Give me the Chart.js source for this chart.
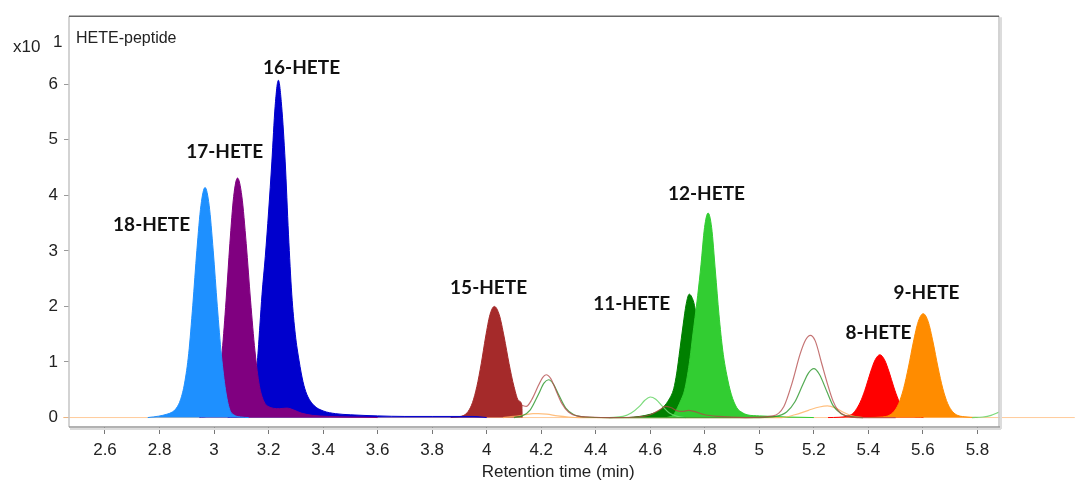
<!DOCTYPE html>
<html>
<head>
<meta charset="utf-8">
<script src="https://cdn.jsdelivr.net/npm/chart.js@4"></script>
<style>
  body { margin: 0; background: #fff; }
  canvas { display: block; }
</style>
</head>
<body>
<canvas id="grafico" width="1075" height="481"></canvas>
<script>
// axis ticks
const xTicks = [2.6, 2.8, 3, 3.2, 3.4, 3.6, 3.8, 4, 4.2, 4.4, 4.6, 4.8, 5, 5.2, 5.4, 5.6, 5.8];
const yTicks = [0, 1, 2, 3, 4, 5, 6];

// filled peaks (time in min, intensity x10^1)
const t18 = [2.757, 2.797, 2.827, 2.847, 2.862, 2.877, 2.892, 2.907, 2.922, 2.937, 2.952, 2.967, 2.982, 2.997, 3.012, 3.027, 3.042, 3.057, 3.072, 3.097, 3.127];
const v18 = [0, 0.025, 0.06, 0.1, 0.17, 0.32, 0.62, 1.15, 2.02, 3.01, 3.82, 4.14, 3.82, 3.0, 2.0, 1.12, 0.5, 0.15, 0.05, 0.01, 0];

const t17 = [2.946, 2.974, 2.988, 3.002, 3.016, 3.03, 3.044, 3.058, 3.072, 3.086, 3.102, 3.118, 3.134, 3.15, 3.166, 3.182, 3.198, 3.24, 3.267, 3.29, 3.32, 3.36, 3.42, 3.5, 3.6];
const v17 = [0, 0.026, 0.085, 0.24, 0.58, 1.2, 2.1, 3.13, 3.98, 4.31, 3.98, 3.13, 2.1, 1.2, 0.58, 0.3, 0.2, 0.16, 0.17, 0.14, 0.08, 0.04, 0.02, 0.01, 0];

const t16 = [3.05, 3.096, 3.116, 3.131, 3.146, 3.159, 3.168, 3.176, 3.188, 3.2, 3.212, 3.224, 3.236, 3.248, 3.261, 3.273, 3.285, 3.298, 3.312, 3.326, 3.34, 3.366, 3.4, 3.446, 3.5, 3.6, 3.7, 3.8, 3.95, 4.0];
const v16 = [0, 0.03, 0.09, 0.22, 0.52, 1.02, 1.65, 2.22, 2.9, 3.7, 4.6, 5.6, 6.07, 5.6, 4.6, 3.3, 2.22, 1.5, 1.02, 0.65, 0.42, 0.22, 0.12, 0.07, 0.05, 0.03, 0.02, 0.02, 0.02, 0];

const t15 = [3.868, 3.888, 3.916, 3.932, 3.948, 3.964, 3.98, 3.996, 4.012, 4.028, 4.046, 4.064, 4.082, 4.1, 4.118, 4.129, 4.1301];
const v15 = [0, 0.01, 0.04, 0.11, 0.27, 0.56, 0.97, 1.45, 1.85, 2.0, 1.85, 1.45, 0.97, 0.56, 0.3, 0.22, 0];

const t11 = [4.52, 4.56, 4.6, 4.63, 4.65, 4.668, 4.686, 4.697, 4.708, 4.72, 4.732, 4.743, 4.752, 4.762, 4.775, 4.79, 4.805, 4.825, 4.855, 4.895];
const v11 = [0, 0.02, 0.06, 0.12, 0.2, 0.32, 0.52, 0.8, 1.2, 1.65, 2.05, 2.22, 2.17, 2.02, 1.6, 1.0, 0.5, 0.2, 0.05, 0];

const t12 = [4.66, 4.685, 4.7, 4.713, 4.725, 4.736, 4.746, 4.755, 4.764, 4.774, 4.786, 4.799, 4.812, 4.825, 4.839, 4.852, 4.866, 4.88, 4.897, 4.917, 4.937, 4.955, 5.0, 5.05, 5.1, 5.2];
const v12 = [0, 0.05, 0.18, 0.32, 0.48, 0.75, 1.08, 1.45, 1.8, 2.2, 2.75, 3.42, 3.68, 3.42, 2.62, 1.85, 1.2, 0.78, 0.42, 0.18, 0.09, 0.05, 0.03, 0.02, 0.01, 0];

const t8 = [5.252, 5.292, 5.322, 5.342, 5.357, 5.374, 5.391, 5.408, 5.425, 5.442, 5.459, 5.476, 5.493, 5.51, 5.527, 5.542, 5.562, 5.602];
const v8 = [0, 0.005, 0.025, 0.07, 0.16, 0.32, 0.55, 0.82, 1.04, 1.13, 1.04, 0.82, 0.55, 0.32, 0.16, 0.07, 0.025, 0];

const t9 = [5.4, 5.451, 5.475, 5.493, 5.511, 5.529, 5.547, 5.565, 5.583, 5.601, 5.619, 5.637, 5.655, 5.673, 5.691, 5.709, 5.727, 5.751, 5.8];
const v9 = [0, 0.01, 0.037, 0.105, 0.25, 0.52, 0.91, 1.36, 1.73, 1.87, 1.73, 1.36, 0.91, 0.52, 0.25, 0.105, 0.04, 0.015, 0];

// thin traces outside the integrated windows
const tBrown = [4.129, 4.145, 4.165, 4.19, 4.205, 4.218, 4.235, 4.255, 4.275, 4.3, 4.33, 4.38, 4.45, 4.55, 4.6, 4.635, 4.655, 4.675, 4.7, 4.72, 4.74, 4.76, 4.8, 4.85, 4.95, 5.05, 5.09, 5.12, 5.15, 5.17, 5.187, 5.205, 5.23, 5.249, 5.27, 5.29, 5.32, 5.36, 5.5];
const vBrown = [0.22, 0.2, 0.32, 0.58, 0.72, 0.77, 0.7, 0.48, 0.26, 0.1, 0.03, 0.01, 0, 0.01, 0.05, 0.14, 0.2, 0.18, 0.12, 0.11, 0.13, 0.11, 0.05, 0.02, 0, 0.03, 0.2, 0.62, 1.15, 1.4, 1.48, 1.38, 0.95, 0.62, 0.3, 0.12, 0.03, 0, 0];

const tGreen = [4.1, 4.13, 4.16, 4.19, 4.21, 4.227, 4.245, 4.265, 4.29, 4.32, 4.36, 4.45, 5.0, 5.06, 5.1, 5.13, 5.16, 5.18, 5.2, 5.22, 5.25, 5.27, 5.3, 5.33, 5.38];
const vGreen = [0, 0.03, 0.14, 0.42, 0.62, 0.68, 0.6, 0.4, 0.17, 0.05, 0.01, 0, 0, 0.02, 0.1, 0.28, 0.6, 0.8, 0.88, 0.78, 0.44, 0.22, 0.07, 0.02, 0];

const tLime = [4.45, 4.5, 4.53, 4.56, 4.58, 4.6, 4.62, 4.645, 4.67, 4.7, 4.73];
const vLime = [0, 0.02, 0.08, 0.2, 0.31, 0.37, 0.33, 0.2, 0.08, 0.02, 0];
const tLimeEnd = [5.78, 5.82, 5.85, 5.879];
const vLimeEnd = [0, 0.01, 0.04, 0.1];

const tOrange = [4.06, 4.1, 4.14, 4.17, 4.19, 4.22, 4.26, 4.3, 4.34, 5.08, 5.13, 5.18, 5.22, 5.25, 5.28, 5.31, 5.34, 5.38];
const vOrange = [0, 0.02, 0.05, 0.07, 0.07, 0.06, 0.03, 0.01, 0, 0, 0.05, 0.13, 0.19, 0.21, 0.17, 0.09, 0.03, 0];

const tBase = [2.446, 6.157];
const vBase = [0, 0];

// peak labels
const peakNames = ['18-HETE', '17-HETE', '16-HETE', '15-HETE', '11-HETE', '12-HETE', '8-HETE', '9-HETE'];
const labelT = [2.771, 3.039, 3.321, 4.007, 4.532, 4.806, 5.437, 5.613];
const labelV = [3.47, 4.79, 6.29, 2.34, 2.04, 4.02, 1.53, 2.25];

const pts = (t, v) => t.map((x, i) => ({ x: x, y: v[i] }));

function peak(t, v, color) {
  return {
    data: pts(t, v), borderColor: color, backgroundColor: color,
    borderWidth: 1, fill: 'origin', pointRadius: 0, cubicInterpolationMode: 'monotone'
  };
}
function trace(t, v, color, extra) {
  return Object.assign({
    data: pts(t, v), borderColor: color, borderWidth: 1.2, fill: false,
    pointRadius: 0, cubicInterpolationMode: 'monotone'
  }, extra || {});
}

const decor = {
  id: 'decor',
  beforeDraw(chart) {
    const c = chart.ctx;
    c.save();
    c.fillStyle = '#fff';
    c.fillRect(0, 0, chart.width, chart.height);
    c.restore();
  },
  afterDraw(chart) {
    const c = chart.ctx;
    const a = chart.chartArea;
    const xs = chart.scales.x, ys = chart.scales.y;
    c.save();
    // frame
    c.lineWidth = 1.5;
    c.strokeStyle = '#c4c4c4';
    c.beginPath(); c.moveTo(a.left, a.top); c.lineTo(a.left, a.bottom); c.stroke();
    c.beginPath(); c.moveTo(a.right, a.top); c.lineTo(a.right, a.bottom); c.stroke();
    c.strokeStyle = '#666';
    c.beginPath(); c.moveTo(a.left, a.top); c.lineTo(a.right, a.top); c.stroke();
    c.strokeStyle = '#999';
    c.beginPath(); c.moveTo(a.left, a.bottom); c.lineTo(a.right + 1, a.bottom); c.stroke();
    c.strokeStyle = '#dcdcdc';
    c.lineWidth = 2;
    c.beginPath(); c.moveTo(a.left + 1, a.bottom + 2); c.lineTo(a.right + 2, a.bottom + 2); c.stroke();
    c.beginPath(); c.moveTo(a.right + 2, a.top + 1); c.lineTo(a.right + 2, a.bottom + 2); c.stroke();

    // peak names
    c.fillStyle = '#111';
    c.font = 'bold 19px Lato';
    c.textAlign = 'center';
    c.textBaseline = 'middle';
    peakNames.forEach((n, i) => {
      c.fillText(n, xs.getPixelForValue(labelT[i]), ys.getPixelForValue(labelV[i]));
    });

    // texts
    c.fillStyle = '#222';
    c.textAlign = 'left';
    c.textBaseline = 'alphabetic';
    c.font = '16px "Liberation Sans"';
    c.fillText('HETE-peptide', a.left + 7, a.top + 27);
    c.font = '17px "Liberation Sans"';
    c.fillText('x10', 13, 52);
    c.fillText('1', 53, 47);
    c.textAlign = 'center';
    c.fillText('Retention time (min)', a.left + (a.right - a.left) * 0.526, 477);
    c.restore();
  }
};

new Chart(document.getElementById('grafico'), {
  type: 'line',
  data: {
    datasets: [
      trace(tBrown, vBrown, 'rgba(178,70,70,0.75)'),
      trace(tGreen, vGreen, 'rgba(40,150,40,0.8)'),
      trace(tLime, vLime, 'rgba(110,215,110,0.9)'),
      trace(tLimeEnd, vLimeEnd, 'rgba(110,215,110,0.9)'),
      trace(tOrange, vOrange, 'rgba(255,175,95,0.8)'),
      peak(t18, v18, '#1E90FF'),
      peak(t17, v17, '#800080'),
      peak(t16, v16, '#0000CD'),
      peak(t15, v15, '#A52A2A'),
      peak(t12, v12, '#32CD32'),
      peak(t11, v11, '#008000'),
      peak(t9, v9, '#FF8C00'),
      peak(t8, v8, '#FF0000'),
      trace(tBase, vBase, 'rgba(255,190,130,0.8)', { clip: false, borderWidth: 1, cubicInterpolationMode: 'default', tension: 0 })
    ]
  },
  options: {
    responsive: false,
    animation: false,
    layout: { padding: { top: 13, right: 76, left: 0, bottom: 0 } },
    plugins: { legend: { display: false }, tooltip: { enabled: false } },
    scales: {
      x: {
        type: 'linear', min: 2.468, max: 5.879,
        afterFit: s => { s.height = 54; },
        afterBuildTicks: s => { s.ticks = xTicks.map(v => ({ value: v })); },
        grid: { drawOnChartArea: false, drawTicks: true, tickLength: 7, color: '#777' },
        border: { display: false },
        ticks: {
          padding: 6, color: '#222', maxRotation: 0, autoSkip: false,
          font: { family: 'Liberation Sans', size: 17 },
          callback: v => String(+v.toFixed(1))
        }
      },
      y: {
        type: 'linear', min: -0.17, max: 7.223,
        afterFit: s => { s.width = 69; },
        afterBuildTicks: s => { s.ticks = yTicks.map(v => ({ value: v })); },
        grid: { drawOnChartArea: false, drawTicks: true, tickLength: 5, color: '#999' },
        border: { display: false },
        ticks: {
          padding: 6, color: '#222',
          font: { family: 'Liberation Sans', size: 17 },
          callback: v => String(v)
        }
      }
    }
  },
  plugins: [decor]
});
</script>
</body>
</html>
